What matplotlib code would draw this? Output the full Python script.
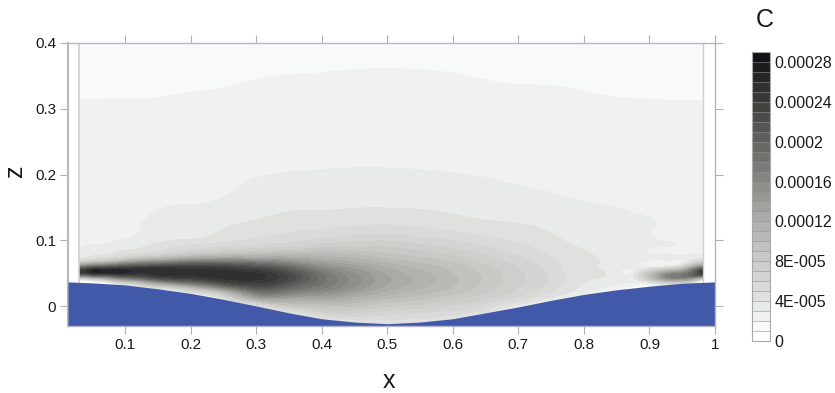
import numpy as np
import matplotlib
matplotlib.use("Agg")
import matplotlib.pyplot as plt
import matplotlib.tri as mtri
from matplotlib.colors import LinearSegmentedColormap

plt.rcParams['font.family'] = ['Liberation Sans', 'DejaVu Sans']

# bottom wall
wall_x = [0.013, 0.05, 0.1, 0.15, 0.2, 0.25, 0.3, 0.35, 0.4, 0.45, 0.5, 0.55, 0.6, 0.65, 0.7, 0.75, 0.8, 0.85, 0.9, 0.95, 1.0]
wall_z = [0.037, 0.0355, 0.0325, 0.0265, 0.0195, 0.0105, 0.0005, -0.010, -0.019, -0.024, -0.0265, -0.024, -0.019, -0.010, -0.001, 0.009, 0.018, 0.025, 0.0305, 0.035, 0.037]

# grid stations
x_st = [0.03, 0.06, 0.1, 0.15, 0.2, 0.25, 0.3, 0.35, 0.4, 0.45, 0.5, 0.55, 0.6, 0.65, 0.7, 0.75, 0.8, 0.85, 0.875, 0.9, 0.94, 0.982]
z_st = [-0.03, -0.02, -0.01, 0, 0.01, 0.02, 0.03, 0.04, 0.05, 0.06, 0.07, 0.08, 0.09, 0.1, 0.12, 0.15, 0.2, 0.25, 0.3, 0.35, 0.4]

# C in units of 1e-5, one list per x station, bottom to top
c_003 = [1, 1, 1, 1, 1, 1, 1, 3, 23.5, 17, 5, 3.3, 2.95, 2.85, 2.7, 2.6, 2.4, 2.2, 2.1, 1.6, 1.2]
c_006 = [1, 1, 1, 1, 1, 1, 1, 6, 25.3, 20, 7, 3.8, 3.15, 2.95, 2.8, 2.65, 2.45, 2.25, 2.1, 1.65, 1.2]
c_010 = [1, 1, 1, 1, 1, 1, 2, 13, 25.5, 22, 10, 4.6, 3.6, 3.1, 2.88, 2.7, 2.5, 2.3, 2.1, 1.7, 1.25]
c_015 = [1, 1, 1, 1, 1, 1, 7, 19, 25.5, 23, 13, 6, 4.4, 3.8, 3.2, 2.95, 2.6, 2.35, 2.1, 1.75, 1.3]
c_020 = [1, 1, 1, 1, 1, 4, 12, 22, 25.5, 23.5, 15, 8, 5.5, 4.2, 3.6, 3.1, 2.75, 2.4, 2.15, 1.8, 1.3]
c_025 = [1, 1, 1, 1, 4, 9, 18, 24.5, 25.5, 23, 15.5, 9, 6, 4.7, 3.95, 3.25, 2.87, 2.5, 2.2, 1.85, 1.35]
c_030 = [1, 1, 2, 4, 11, 17, 22, 25, 25, 21.5, 15, 9.5, 6.5, 5.2, 4.3, 3.55, 2.97, 2.6, 2.3, 1.95, 1.4]
c_035 = [1, 2, 4, 8, 12, 16.5, 20, 22.5, 22.3, 19, 14, 10, 7, 5.7, 4.6, 3.85, 3.03, 2.7, 2.35, 2.02, 1.4]
c_040 = [2, 4, 6.5, 9, 12, 15, 17.5, 18.5, 18, 15.5, 12.5, 10, 7.8, 6.3, 4.85, 3.9, 3.07, 2.7, 2.4, 2.05, 1.4]
c_045 = [3, 5, 7, 9, 11, 13.3, 15, 15.5, 15, 13.5, 11.5, 9.7, 8, 6.7, 5.1, 3.97, 3.1, 2.7, 2.42, 2.1, 1.4]
c_050 = [3.5, 5, 6.5, 8, 9.8, 11.5, 12.7, 13.2, 12.8, 11.8, 10.3, 9, 8, 6.9, 5.2, 3.98, 3.1, 2.7, 2.42, 2.12, 1.4]
c_055 = [3, 4.8, 6, 7.5, 9, 10.3, 11.3, 11.7, 11.4, 10.6, 9.5, 8.4, 7.4, 6.4, 5, 3.93, 3.08, 2.65, 2.4, 2.1, 1.4]
c_060 = [2, 4, 5.5, 6.8, 8, 9.2, 10, 10.2, 10, 9.5, 8.6, 7.7, 6.8, 6, 4.7, 3.8, 3.03, 2.6, 2.35, 2.04, 1.4]
c_065 = [1, 2, 4, 5.5, 6.8, 8, 8.6, 8.8, 8.7, 8.2, 7.5, 6.8, 6.1, 5.4, 4.35, 3.6, 2.95, 2.5, 2.25, 1.95, 1.35]
c_070 = [1, 1, 2, 3.5, 5.3, 6.5, 7.1, 7.3, 7.2, 6.9, 6.4, 5.8, 5.3, 4.8, 4.15, 3.45, 2.85, 2.5, 2.2, 1.9, 1.35]
c_075 = [1, 1, 1, 2, 3.5, 4.8, 5.5, 5.8, 5.7, 5.5, 5.2, 4.8, 4.5, 4.25, 3.8, 3.3, 2.75, 2.45, 2.2, 1.88, 1.3]
c_080 = [1, 1, 1, 1, 2, 3.2, 3.8, 4.15, 4.2, 4.2, 4.2, 4.1, 3.9, 3.7, 3.4, 3.1, 2.65, 2.4, 2.15, 1.82, 1.25]
c_085 = [1, 1, 1, 1, 1, 1.5, 2.8, 3.3, 3.45, 3.5, 3.5, 3.45, 3.4, 3.35, 3.25, 3, 2.55, 2.35, 2.1, 1.75, 1.2]
c_088 = [1, 1, 1, 1, 1, 1, 1.8, 3.6, 3.5, 3.15, 3.2, 3.25, 3.25, 3.25, 3.15, 2.9, 2.5, 2.3, 2.1, 1.7, 1.2]
c_090 = [1, 1, 1, 1, 1, 1, 1.5, 7, 9, 3.1, 3, 3.05, 3.1, 3.12, 3.05, 2.82, 2.45, 2.25, 2.1, 1.65, 1.2]
c_094 = [1, 1, 1, 1, 1, 1, 1, 13, 16, 5, 2.85, 2.8, 2.85, 2.85, 2.75, 2.6, 2.35, 2.2, 2.1, 1.6, 1.2]
c_098 = [1, 1, 1, 1, 1, 1, 1, 2.5, 25, 16, 5, 2.9, 2.7, 2.65, 2.6, 2.5, 2.3, 2.15, 2.1, 1.55, 1.2]

columns = [c_003, c_006, c_010, c_015, c_020, c_025, c_030, c_035, c_040, c_045, c_050,
           c_055, c_060, c_065, c_070, c_075, c_080, c_085, c_088, c_090, c_094, c_098]

levels = np.arange(0, 30) * 1e-5
bar_ticks = [0, 4e-5, 8e-5, 12e-5, 16e-5, 20e-5, 24e-5, 28e-5]
bar_labels = ['0', '4E-005', '8E-005', '0.00012', '0.00016', '0.0002', '0.00024', '0.00028']
x_ticks = [0.1, 0.2, 0.3, 0.4, 0.5, 0.6, 0.7, 0.8, 0.9, 1]
x_labels = ['0.1', '0.2', '0.3', '0.4', '0.5', '0.6', '0.7', '0.8', '0.9', '1']
z_ticks = [0, 0.1, 0.2, 0.3, 0.4]
z_labels = ['0', '0.1', '0.2', '0.3', '0.4']

anchors = [(0, '#ffffff'), (1 / 28, '#f8f9f9'), (2 / 28, '#f1f1f1'), (3 / 28, '#e9eaea'), (4 / 28, '#e0e1df'),
           (8 / 28, '#c8c8c4'), (12 / 28, '#aaaaa6'), (16 / 28, '#858580'), (20 / 28, '#5e5e5a'),
           (24 / 28, '#383838'), (1, '#121216')]
cmap = LinearSegmentedColormap.from_list('greys_c', anchors, N=29)
axis_col = '#b4b6c8'
text_col = '#1a1a1a'

fig = plt.figure(figsize=(8.35, 3.93), dpi=100)
W, H = 835.0, 393.0
ax = fig.add_axes([68 / W, 1 - 326 / H, (715 - 68) / W, (326 - 43) / H])

X, Z = np.meshgrid(x_st, z_st)
C = np.array(columns).T * 1e-5
tri = mtri.Triangulation(X.ravel(), Z.ravel())
refiner = mtri.UniformTriRefiner(tri)
tri2, C2 = refiner.refine_field(C.ravel(), subdiv=3)
C2 = np.clip(C2, 0.2e-5, 28.9e-5)
cf = ax.tricontourf(tri2, C2, levels=levels, cmap=cmap, zorder=1)

# side edges of the field
ax.plot([x_st[0], x_st[0]], [wall_z[1], 0.4], color='#cfd0d2', lw=1.2, zorder=2)
ax.plot([x_st[-1], x_st[-1]], [wall_z[-2], 0.4], color='#cfd0d2', lw=1.0, zorder=2)

ax.fill_between(wall_x, -0.03, wall_z, color='#4159a8', lw=0, zorder=3)

ax.set_xlim(0.013, 1.0)
ax.set_ylim(-0.03, 0.4)
ax.set_xticks(x_ticks, x_labels)
ax.set_yticks(z_ticks, z_labels)
ax.tick_params(axis='both', which='both', direction='out', length=5.5, width=0.8, color='#b0b0b4',
               labelsize=11, labelcolor=text_col, pad=3, top=True, right=True)
for side in ['top', 'right', 'bottom']:
    ax.spines[side].set_color(axis_col)
    ax.spines[side].set_linewidth(1.0)
    ax.spines[side].set_zorder(4)
ax.spines['left'].set_color('#b8bac2')
ax.spines['left'].set_linewidth(1.6)

fig.text(389 / W, 1 - 381 / H, 'x', fontsize=18, color=text_col, ha='center', va='center')
fig.text(15 / W, 1 - 171 / H, 'z', fontsize=18, color=text_col, ha='center', va='center', rotation=90)
fig.text(765 / W, 1 - 20 / H, 'C', fontsize=18, color=text_col, ha='center', va='center')

# colour bar
cax = fig.add_axes([752 / W, 1 - 341 / H, 18 / W, (341 - 52) / H])
cb = fig.colorbar(cf, cax=cax, drawedges=True)
cb.set_ticks(bar_ticks, labels=bar_labels)
cb.ax.tick_params(length=0, pad=3, labelsize=11.5, labelcolor=text_col)
cb.outline.set_edgecolor('#a8a8a8')
cb.outline.set_linewidth(0.8)
cb.dividers.set_color('#8f8f8f')
cb.dividers.set_linewidth(0.4)

fig.savefig('out.png', dpi=100)
